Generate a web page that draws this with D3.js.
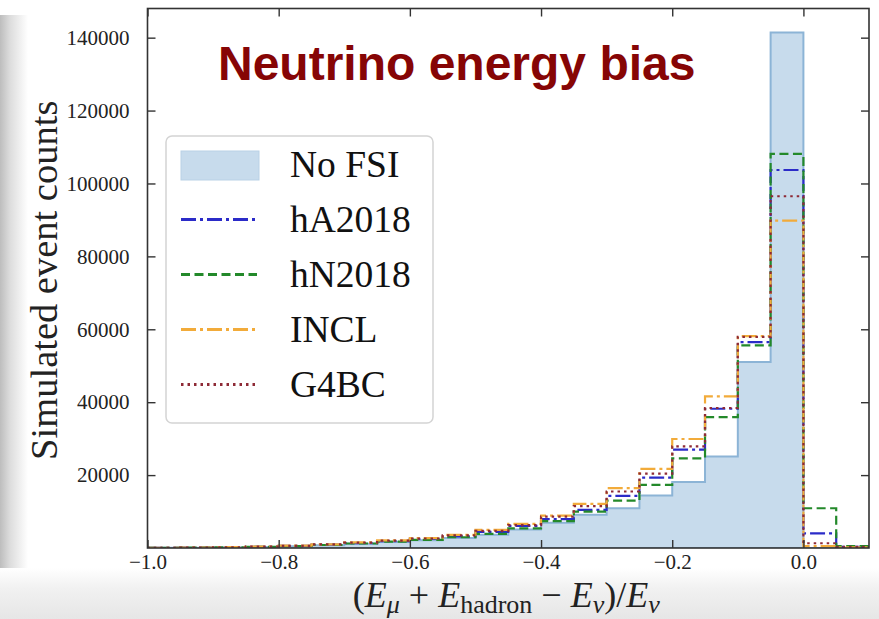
<!DOCTYPE html>
<html>
<head>
<meta charset="utf-8">
<script src="https://cdn.jsdelivr.net/npm/d3@7"></script>
<style>
  html, body { margin: 0; padding: 0; background: #ffffff; }
  svg { display: block; }
</style>
</head>
<body>
<svg id="chart" width="879" height="619"></svg>
<script>
// Histogram bin edges (fractional neutrino energy bias)
const binEdges = [-1.00, -0.95, -0.90, -0.85, -0.80, -0.75, -0.70, -0.65, -0.60, -0.55, -0.50,
                  -0.45, -0.40, -0.35, -0.30, -0.25, -0.20, -0.15, -0.10, -0.05, 0.00, 0.05, 0.10];

// Event counts per bin for each FSI model
const noFSI  = [50, 90, 160, 280, 470, 760, 1150, 1620, 2150, 2750, 3650,
                5100, 6950, 9100, 10900, 14400, 18100, 25100, 51000, 141400, 0, 0];
const hA2018 = [60, 110, 190, 330, 560, 900, 1350, 1900, 2500, 3200, 4400,
                6050, 7900, 10450, 14300, 19300, 27000, 38200, 56500, 103700, 4000, 300];
const hN2018 = [50, 100, 170, 300, 510, 820, 1230, 1730, 2250, 2950, 3850,
                5400, 7350, 10000, 13000, 17300, 24600, 35900, 55600, 108100, 10900, 500];
const incl   = [70, 130, 220, 380, 640, 1020, 1520, 2100, 2700, 3600, 4950,
                6600, 8900, 12100, 16400, 21700, 29900, 41600, 58100, 89800, 500, 200];
const g4bc   = [65, 120, 205, 360, 610, 970, 1450, 2000, 2600, 3450, 4700,
                6300, 8600, 11500, 15500, 20400, 27900, 38400, 57900, 96500, 1300, 300];

// Tick values and labels
const xTicks = [-1.0, -0.8, -0.6, -0.4, -0.2, 0.0];
const xTickLabels = ["\u22121.0", "\u22120.8", "\u22120.6", "\u22120.4", "\u22120.2", "0.0"];
const yTicks = [20000, 40000, 60000, 80000, 100000, 120000, 140000];
const yTickLabels = ["20000", "40000", "60000", "80000", "100000", "120000", "140000"];

// Line series (drawn as step outlines) with legend names
const lineSeries = [
  { name: "hA2018", values: hA2018, color: "#2b2bc8", dash: "15,4,3,4" },
  { name: "hN2018", values: hN2018, color: "#23892a", dash: "9,4.5" },
  { name: "INCL",   values: incl,   color: "#f2ab3a", dash: "15,4,3,4" },
  { name: "G4BC",   values: g4bc,   color: "#8e2a36", dash: "2.5,4" }
];

const svg = d3.select("#chart");
const W = 879, H = 619;
const plot = { left: 147.5, right: 869, top: 8.5, bottom: 548 };

// Soft page shading along the left and bottom edges
const defs = svg.append("defs");
const gl = defs.append("linearGradient").attr("id", "edgeL").attr("x1", 0).attr("x2", 1).attr("y1", 0).attr("y2", 0);
gl.append("stop").attr("offset", 0).attr("stop-color", "#bdbdbd");
gl.append("stop").attr("offset", 0.35).attr("stop-color", "#dcdcdc");
gl.append("stop").attr("offset", 1).attr("stop-color", "#ffffff");
const gb = defs.append("linearGradient").attr("id", "edgeB").attr("x1", 0).attr("x2", 0).attr("y1", 0).attr("y2", 1);
gb.append("stop").attr("offset", 0).attr("stop-color", "#ffffff");
gb.append("stop").attr("offset", 0.4).attr("stop-color", "#f1f1f1");
gb.append("stop").attr("offset", 1).attr("stop-color", "#e6e6e6");
defs.append("clipPath").attr("id", "plotClip")
  .append("rect").attr("x", plot.left).attr("y", plot.top)
  .attr("width", plot.right - plot.left).attr("height", plot.bottom - plot.top);

svg.append("rect").attr("x", 0).attr("y", 0).attr("width", W).attr("height", H).attr("fill", "#fff");
svg.append("rect").attr("x", 0).attr("y", 15).attr("width", 28).attr("height", 560).attr("fill", "url(#edgeL)");
svg.append("rect").attr("x", 0).attr("y", 568).attr("width", W).attr("height", H - 568).attr("fill", "url(#edgeB)");

const x = d3.scaleLinear().domain([-1.0, 0.1]).range([plot.left, plot.right]);
const y = d3.scaleLinear().domain([0, 148000]).range([plot.bottom, plot.top]);

// Build step outline points for a histogram
function stepPoints(values) {
  const pts = [[binEdges[0], 0]];
  values.forEach((v, i) => {
    pts.push([binEdges[i], v]);
    pts.push([binEdges[i + 1], v]);
  });
  pts.push([binEdges[binEdges.length - 1], 0]);
  return pts;
}
const stepLine = d3.line().x(d => x(d[0])).y(d => y(d[1]));

const g = svg.append("g").attr("clip-path", "url(#plotClip)");

// Filled "No FSI" histogram
g.append("path")
  .attr("d", stepLine(stepPoints(noFSI)) + "Z")
  .attr("fill", "#c7dbec")
  .attr("stroke", "#8cb4d6")
  .attr("stroke-width", 2);

// Model outlines
lineSeries.forEach(s => {
  g.append("path")
    .attr("d", stepLine(stepPoints(s.values)))
    .attr("fill", "none")
    .attr("stroke", s.color)
    .attr("stroke-width", 2.2)
    .attr("stroke-dasharray", s.dash);
});

// Axes: ticks pointing inward on all four sides
const axisColor = "#333";
const tickLen = 8;
const serif = "'Liberation Serif', 'Times New Roman', 'DejaVu Serif', serif";

const xAxisB = d3.axisBottom(x).tickValues(xTicks).tickSize(-tickLen).tickPadding(6)
  .tickFormat((d, i) => xTickLabels[i]);
const xAxisT = d3.axisTop(x).tickValues(xTicks).tickSize(-tickLen).tickFormat("");
const yAxisL = d3.axisLeft(y).tickValues(yTicks).tickSize(-tickLen).tickPadding(18)
  .tickFormat((d, i) => yTickLabels[i]);
const yAxisR = d3.axisRight(y).tickValues(yTicks).tickSize(-tickLen).tickFormat("");

function styleAxis(sel) {
  sel.select(".domain").remove();
  sel.selectAll(".tick line").attr("stroke", axisColor).attr("stroke-width", 1.4);
  sel.selectAll(".tick text").attr("fill", "#222").style("font-family", serif).style("font-size", "21px");
}
svg.append("g").attr("transform", `translate(0,${plot.bottom})`).call(xAxisB).call(styleAxis);
svg.append("g").attr("transform", `translate(0,${plot.top})`).call(xAxisT).call(styleAxis);
svg.append("g").attr("transform", `translate(${plot.left},0)`).call(yAxisL).call(styleAxis);
svg.append("g").attr("transform", `translate(${plot.right},0)`).call(yAxisR).call(styleAxis);

// Frame
svg.append("rect")
  .attr("x", plot.left).attr("y", plot.top)
  .attr("width", plot.right - plot.left).attr("height", plot.bottom - plot.top)
  .attr("fill", "none").attr("stroke", axisColor).attr("stroke-width", 1.6);

// Axis titles
svg.append("text")
  .attr("transform", `translate(57,${(plot.top + plot.bottom) / 2 + 2}) rotate(-90)`)
  .attr("text-anchor", "middle")
  .style("font-family", serif).style("font-size", "38.5px").attr("fill", "#222")
  .text("Simulated event counts");

const xl = svg.append("text")
  .attr("x", (plot.left + plot.right) / 2 - 2).attr("y", 607)
  .attr("text-anchor", "middle")
  .style("font-family", serif).style("font-size", "36px").attr("fill", "#222");
const parts = [
  { t: "(", it: false },
  { t: "E", it: true },
  { t: "\u03bc", it: true, sub: true },
  { t: " + ", it: false },
  { t: "E", it: true },
  { t: "hadron", it: false, sub: true },
  { t: " \u2212 ", it: false },
  { t: "E", it: true },
  { t: "\u03bd", it: true, sub: true },
  { t: ")/", it: false },
  { t: "E", it: true },
  { t: "\u03bd", it: true, sub: true }
];
let prevSub = false;
parts.forEach(p => {
  const ts = xl.append("tspan").text(p.t)
    .style("font-style", p.it ? "italic" : "normal");
  if (p.sub) { ts.attr("dy", 6).style("font-size", "26px"); }
  else if (prevSub) { ts.attr("dy", -6); }
  prevSub = !!p.sub;
});

// Title
svg.append("text")
  .attr("x", 218).attr("y", 80)
  .style("font-family", "'Liberation Sans', Arial, Helvetica, sans-serif")
  .style("font-weight", "bold").style("font-size", "48px")
  .attr("fill", "#860505")
  .text("Neutrino energy bias");

// Legend
const lg = svg.append("g");
lg.append("rect")
  .attr("x", 166).attr("y", 136).attr("width", 267).attr("height", 287)
  .attr("rx", 6).attr("ry", 6)
  .attr("fill", "#fff").attr("fill-opacity", 0.85)
  .attr("stroke", "#d4d4d4").attr("stroke-width", 1.5);

const legendItems = [{ name: "No FSI", patch: true }].concat(lineSeries);
legendItems.forEach((d, i) => {
  const base = 177 + i * 55;
  if (d.patch) {
    lg.append("rect").attr("x", 181).attr("y", base - 26).attr("width", 78).attr("height", 29)
      .attr("fill", "#c7dbec").attr("stroke", "#b9d1e6").attr("stroke-width", 1);
  } else {
    lg.append("line").attr("x1", 181).attr("x2", 257)
      .attr("y1", base - 12.5).attr("y2", base - 12.5)
      .attr("stroke", d.color).attr("stroke-width", 2.8)
      .attr("stroke-dasharray", d.dash);
  }
  lg.append("text").attr("x", 290).attr("y", base)
    .style("font-family", serif).style("font-size", "37.5px").attr("fill", "#111")
    .text(d.name);
});
</script>
</body>
</html>
